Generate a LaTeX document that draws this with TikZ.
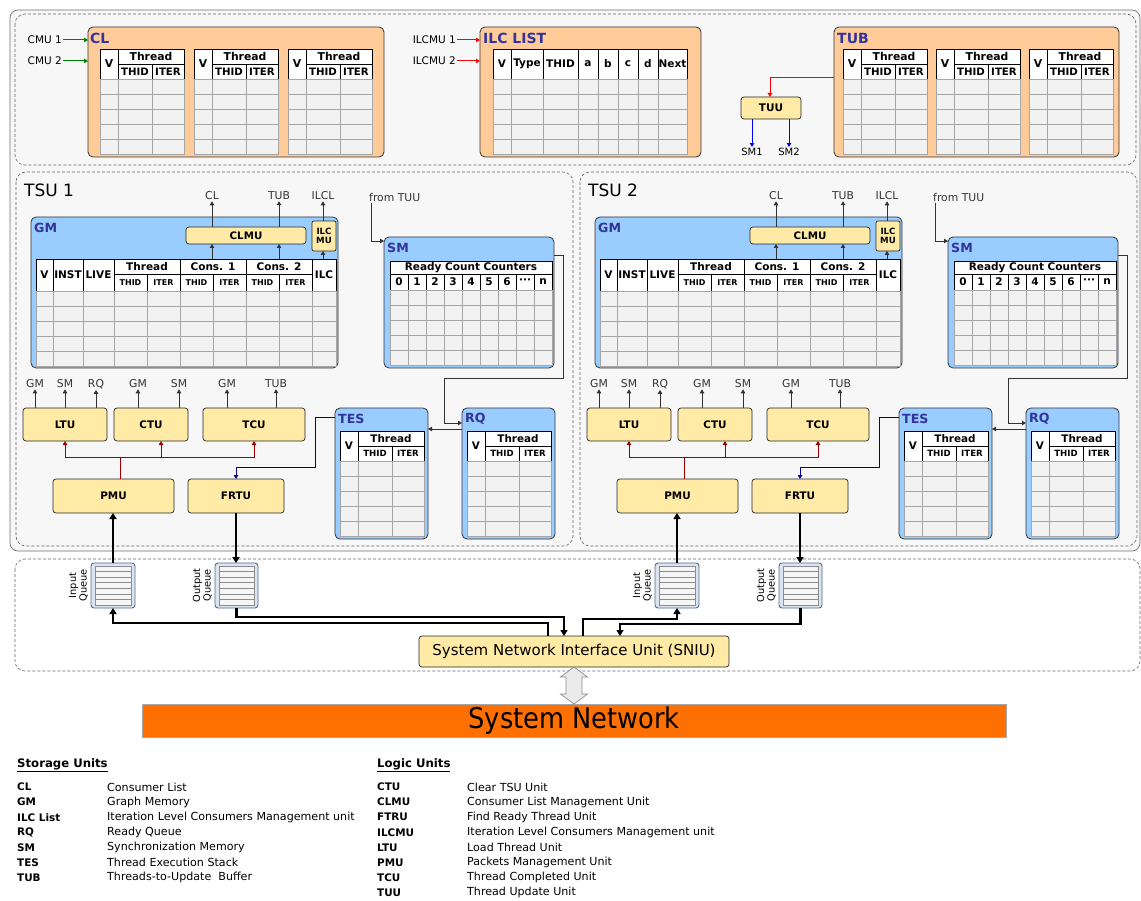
\documentclass[tikz,border=0pt]{standalone}
\usepackage{fontspec}
\setmainfont{DejaVu Sans}
\newfontfamily\condfont{DejaVu Sans Condensed}
\usetikzlibrary{arrows.meta,calc}

\definecolor{orangebox}{HTML}{FFCC99}
\definecolor{bluebox}{HTML}{99CCFF}
\definecolor{unitfill}{HTML}{FFEAA6}
\definecolor{titleblue}{HTML}{333399}
\definecolor{cellfill}{HTML}{F2F2F2}
\definecolor{cellline}{HTML}{A6A6A6}
\definecolor{panelfill}{HTML}{F7F7F7}
\definecolor{netorange}{HTML}{FF7000}
\definecolor{pmured}{HTML}{990000}
\definecolor{frtunavy}{HTML}{000099}
\definecolor{labelgray}{HTML}{333333}
\definecolor{cmugreen}{HTML}{008000}
\definecolor{queueedge}{HTML}{4F6B94}
\definecolor{queuefill}{HTML}{DCE4F0}

\tikzset{
  storebox/.style={draw=black!80, rounded corners=5pt, line width=0.8pt},
  orangestore/.style={storebox, fill=orangebox},
  bluestore/.style={storebox, fill=bluebox},
  unit/.style={draw=black!85, fill=unitfill, rounded corners=3pt, line width=0.7pt,
    font=\bfseries\fontsize{10.4}{11}\selectfont},
  ilcmubox/.style={unit, rounded corners=2pt, align=center, font=\bfseries\fontsize{8.6}{9.2}\selectfont},
  clmubox/.style={unit, font=\bfseries\fontsize{10.3}{11}\selectfont},
  bigtitle/.style={anchor=west, inner sep=0pt, text=titleblue,
    font=\bfseries\fontsize{14}{15}\selectfont},
  smalltitle/.style={bigtitle, font=\bfseries\fontsize{12.6}{13}\selectfont},
  tsutitle/.style={anchor=west, inner sep=0pt, font=\fontsize{17}{18}\selectfont},
  panel/.style={draw=black!60, dash pattern=on 3pt off 2pt, rounded corners=10pt, line width=0.6pt},
  hdrgrid/.style={draw=black, line width=0.8pt},
  cellgrid/.style={draw=cellline, line width=0.7pt},
  gmhead/.style={font=\bfseries\fontsize{10.5}{11}\selectfont, inner sep=0pt},
  gmgroup/.style={font=\bfseries\fontsize{10.5}{11}\selectfont, inner sep=0pt},
  gmsub/.style={font=\bfseries\fontsize{8}{9}\selectfont, inner sep=0pt},
  arrowtip/.style={-{Triangle[length=4pt,width=4.5pt]}},
  sig/.style={draw=labelgray, line width=0.9pt, arrowtip},
  siglabel/.style={font=\fontsize{10.8}{11.5}\selectfont, text=labelgray, inner sep=1pt},
  toplabel/.style={font=\fontsize{10.5}{11}\selectfont, inner sep=1pt},
  cmuarrow/.style={draw=cmugreen, line width=1pt, arrowtip},
  ilcarrow/.style={draw=red, line width=1pt, arrowtip},
  tuuarrow/.style={draw=blue, line width=1pt, arrowtip},
  pmuline/.style={draw=pmured, line width=1pt, arrowtip},
  frtuline/.style={draw=frtunavy, line width=1pt, arrowtip},
  bus/.style={draw=black, line width=2.2pt, -{Triangle[length=6pt,width=7pt]}},
  queuegrid/.style={draw=black!45, line width=0.5pt},
  legabbr/.style={anchor=west, inner sep=0pt, font=\bfseries\fontsize{10.4}{11}\selectfont},
  legdesc/.style={anchor=west, inner sep=0pt, font=\fontsize{11.1}{12}\selectfont},
  leghead/.style={anchor=west, inner sep=0pt, font=\bfseries\fontsize{11.7}{12}\selectfont},
}

% box given by its corners
\newcommand\boxat[7]{%
  \pgfmathsetmacro\bw{#5-#3}\pgfmathsetmacro\bh{#6-#4}%
  \node[#2, anchor=north west, minimum width=\bw pt, minimum height=\bh pt,
        inner sep=0pt, outer sep=0pt] (#1) at (#3,#4) {#7};}

% grey body rows of a table: x1, x2, top, rows, column separators
\newcommand\celbody[5]{%
  \pgfmathsetmacro\cbbot{#3+15*#4}%
  \fill[cellfill] (#1,#3) rectangle (#2,\cbbot);
  \foreach \k in {1,...,#4}{\draw[cellgrid] (#1,{#3+15*\k}) -- (#2,{#3+15*\k});}
  \foreach \s in {#5}{\draw[cellgrid] (\s,#3) -- (\s,\cbbot);}
  \draw[cellgrid] (#1,#3) rectangle (#2,\cbbot);}

% V | Thread (THID, ITER) table
\newcommand\threadtab[4]{%
  \begin{scope}[shift={(#1,#2)}]
    \fill[white] (0,0) rectangle (84,30);
    \draw[hdrgrid] (0,0) rectangle (84,30) (18,0) -- (18,30) (18,15) -- (84,15) (52,15) -- (52,30);
    \node[inner sep=0pt, font=#3] at (9,15) {V};
    \node[inner sep=0pt, font=#3] at (51,7.5) {Thread};
    \node[inner sep=0pt, font=#4] at (35,22.5) {THID};
    \node[inner sep=0pt, font=#4] at (68,22.5) {ITER};
    \celbody{0}{84}{30}{5}{18,52}
  \end{scope}}

% graph memory table
\newcommand\drawgmtab{%
  \fill[white] (36,259) rectangle (336,291);
  \draw[hdrgrid] (36,259) rectangle (336,291);
  \foreach \s in {53,83,114,180,246,312}{\draw[hdrgrid] (\s,259) -- (\s,291);}
  \draw[hdrgrid] (114,274) -- (312,274);
  \foreach \s in {147,213,279}{\draw[hdrgrid] (\s,274) -- (\s,291);}
  \foreach \w/\x in {V/44.5,INST/68,LIVE/98.5,ILC/324}{\node[gmhead] at (\x,275) {\w};}
  \node[gmgroup] at (147,266.5) {Thread};
  \node[gmgroup] at (213,266.5) {Cons. 1};
  \node[gmgroup] at (279,266.5) {Cons. 2};
  \foreach \x in {130.5,196.5,262.5}{\node[gmsub] at (\x,282.5) {THID};}
  \foreach \x in {163.5,229.5,295.5}{\node[gmsub] at (\x,282.5) {ITER};}
  \celbody{36}{336}{291}{5}{53,83,114,147,180,213,246,279,312}}

% synchronization memory table
\newcommand\drawsmtab{%
  \fill[white] (390,261) rectangle (552,290);
  \draw[hdrgrid] (390,261) rectangle (552,290) (390,274) -- (552,274);
  \foreach \s in {408,426,444,462,480,498,516,534}{\draw[hdrgrid] (\s,274) -- (\s,290);}
  \node[gmgroup] at (471,267.5) {Ready Count Counters};
  \foreach \w/\x in {0/399,1/417,2/435,3/453,4/471,5/489,6/507,n/543}{\node[gmhead] at (\x,282) {\w};}
  \node[gmhead] at (525,281) {\char"B7\char"B7\char"B7};
  \celbody{390}{552}{290}{5}{408,426,444,462,480,498,516,534}}

% packet queue with its vertical label
\newcommand\queuebox[6]{%
  \boxat{#1}{draw=queueedge, fill=queuefill, rounded corners=3pt, line width=0.9pt}{#2}{#3}{#4}{#5}{}
  \fill[black!4] ({#2+4},{#3+3}) rectangle ({#4-4},{#5-3});
  \foreach \k in {1,...,6}{\draw[queuegrid] ({#2+4},{#3+3+\k*(#5-#3-6)/7}) -- ({#4-4},{#3+3+\k*(#5-#3-6)/7});}
  \draw[queuegrid] ({#2+4},{#3+3}) rectangle ({#4-4},{#5-3});
  \node[rotate=90, align=center, anchor=south, inner sep=0pt,
        font=\fontsize{9.8}{10.5}\selectfont] (#1lbl) at ({#2-3},{(#3+#5)/2}) {#6};}

\newcommand\cellfontA{\bfseries\fontsize{10.8}{11}\selectfont}
\newcommand\cellfontB{\bfseries\fontsize{10.2}{11}\selectfont}
\newcommand\cellfontC{\bfseries\fontsize{10.4}{11}\selectfont}
\newcommand\cellfontD{\bfseries\fontsize{8.6}{9}\selectfont}

\begin{document}
\begin{tikzpicture}[x=1pt,y=-1pt]
\useasboundingbox (0,0) rectangle (1141,901);
\fill[white] (0,0) rectangle (1141,901);

% frame around storage and the two TSUs
\draw[draw=black!55, fill=panelfill, rounded corners=8pt, line width=0.7pt] (10,10) rectangle (1140,551);
\draw[panel] (15,14) rectangle (1136,165);

% ---------- shared storage ----------
\boxat{cl}{orangestore}{88}{27}{384}{157}{}
\node[bigtitle] (cltitle) at (90,38) {CL};
\foreach \x in {100,194,288}{\threadtab{\x}{49}{\cellfontA}{\cellfontB}}
\node[toplabel, anchor=east] (cmu1) at (63,40) {CMU 1};
\node[toplabel, anchor=east] (cmu2) at (63,61) {CMU 2};
\draw[cmuarrow] (cmu1.east) -- (cl.west |- cmu1.east);
\draw[cmuarrow] (cmu2.east) -- (cl.west |- cmu2.east);

\boxat{ilc}{orangestore}{480}{27}{701}{157}{}
\node[bigtitle] (ilctitle) at (483,38) {ILC LIST};
\fill[white] (493,49) rectangle (687,79);
\draw[hdrgrid] (493,49) rectangle (687,79);
\foreach \s in {511,543,578,598,618,638,658}{\draw[hdrgrid] (\s,49) -- (\s,79);}
\foreach \w/\x in {V/502,Type/527,THID/560.5,a/588,b/608,c/628,d/648,Next/672.5}{%
  \node[inner sep=0pt, font=\bfseries\fontsize{10.5}{11}\selectfont] at (\x,64) {\w};}
\celbody{493}{687}{79}{5}{511,543,578,598,618,638,658}
\node[toplabel, anchor=east] (ilcmu1) at (457,40) {ILCMU 1};
\node[toplabel, anchor=east] (ilcmu2) at (457,61) {ILCMU 2};
\draw[ilcarrow] (ilcmu1.east) -- (ilc.west |- ilcmu1.east);
\draw[ilcarrow] (ilcmu2.east) -- (ilc.west |- ilcmu2.east);

\boxat{tub}{orangestore}{834}{27}{1119}{157}{}
\node[bigtitle] (tubtitle) at (837,38) {TUB};
\foreach \x in {843,936,1029}{\threadtab{\x}{49}{\cellfontA}{\cellfontB}}

\boxat{tuu}{unit, font=\bfseries\fontsize{10.5}{11}\selectfont}{741}{97}{801}{119}{TUU}
\coordinate (tubout) at (834,78);
\draw[ilcarrow] (tubout) -| (tuu.north -| 770,0);
\node[toplabel, font=\fontsize{10}{11}\selectfont] (sm1) at (752,152) {SM1};
\node[toplabel, font=\fontsize{10}{11}\selectfont] (sm2) at (789,152) {SM2};
\draw[tuuarrow] (tuu.south -| sm1) -- (sm1.north);
\draw[tuuarrow] (tuu.south -| sm2) -- (sm2.north);

% ---------- TSU 1 ----------
\draw[panel] (16,172) rectangle (573,546);
\node[tsutitle] (atsu) at (24,190) {TSU 1};
\boxat{agm}{bluestore}{31}{217}{338}{368}{}
\node[smalltitle] (agmtitle) at (34,228) {GM};
\boxat{aclmu}{clmubox}{186}{227}{306}{244}{CLMU}
\boxat{ailcmu}{ilcmubox}{312}{221}{336}{251}{ILC\\MU}
\drawgmtab
\node[siglabel] (alcl) at (212,196) {CL};
\node[siglabel] (altub) at (279,196) {TUB};
\node[siglabel] (alilcl) at (323,196) {ILCL};
\draw[sig] (aclmu.north -| alcl) -- (alcl.south);
\draw[sig] (aclmu.north -| altub) -- (altub.south);
\draw[sig] (ailcmu.north -| alilcl) -- (alilcl.south);
\draw[sig] (212,259) -- (aclmu.south -| alcl);
\draw[sig] (279,259) -- (aclmu.south -| altub);
\draw[sig] (323,259) -- (ailcmu.south -| alilcl);
\boxat{asm}{bluestore}{384}{237}{554}{368}{}
\node[smalltitle] (asmtitle) at (387,248) {SM};
\drawsmtab
\node[siglabel, anchor=south west] (afromtuu) at (368,203) {from TUU};
\draw[sig] (371,203) -- (371,241) -- (asm.west |- 0,241);
\boxat{ates}{bluestore}{335}{408}{428}{539}{}
\node[smalltitle] (atestitle) at (338,419) {TES};
\threadtab{340}{431}{\cellfontC}{\cellfontD}
\boxat{arq}{bluestore}{462}{408}{555}{539}{}
\node[smalltitle] (arqtitle) at (465,419) {RQ};
\threadtab{467}{431}{\cellfontC}{\cellfontD}
\draw[sig] (asm.east |- 0,255) -- (563,255) -- (563,378) -- (444,378) -- (444,423) -- (arq.west |- 0,423);
\draw[sig] (arq.west |- 0,429) -- (ates.east |- 0,429);
\boxat{altu}{unit}{23}{408}{107}{441}{LTU}
\boxat{actu}{unit}{114}{408}{188}{441}{CTU}
\boxat{atcu}{unit}{203}{408}{305}{441}{TCU}
\boxat{apmu}{unit}{53}{479}{174}{513}{PMU}
\boxat{afrtu}{unit}{188}{479}{284}{513}{FRTU}
\node[siglabel] (agm1) at (35,384) {GM};
\node[siglabel] (asm1) at (65,384) {SM};
\node[siglabel] (arq1) at (96,384) {RQ};
\node[siglabel] (agm2) at (138,384) {GM};
\node[siglabel] (asm2) at (179,384) {SM};
\node[siglabel] (agm3) at (227,384) {GM};
\node[siglabel] (atub1) at (276,384) {TUB};
\draw[sig] (altu.north -| agm1) -- (agm1.south);
\draw[sig] (altu.north -| asm1) -- (asm1.south);
\draw[sig] (altu.north -| arq1) -- (arq1.south);
\draw[sig] (actu.north -| agm2) -- (agm2.south);
\draw[sig] (actu.north -| asm2) -- (asm2.south);
\draw[sig] (atcu.north -| agm3) -- (agm3.south);
\draw[sig] (atcu.north -| atub1) -- (atub1.south);
\draw[pmuline] (apmu.north -| 120,0) -- (120,457) -- (65,457) -- (altu.south -| 65,0);
\draw[pmuline] (apmu.north -| 120,0) -- (120,457) -- (161,457) -- (actu.south -| 161,0);
\draw[pmuline] (apmu.north -| 120,0) -- (120,457) -- (254,457) -- (atcu.south -| 254,0);
\draw[frtuline] (ates.west |- 0,417) -- (315,417) -- (315,467) -- (afrtu.north |- 0,467) -- (afrtu.north);

% ---------- TSU 2 ----------
\begin{scope}[xshift=564pt]
\draw[panel] (16,172) rectangle (573,546);
\node[tsutitle] (btsu) at (24,190) {TSU 2};
\boxat{bgm}{bluestore}{31}{217}{338}{368}{}
\node[smalltitle] (bgmtitle) at (34,228) {GM};
\boxat{bclmu}{clmubox}{186}{227}{306}{244}{CLMU}
\boxat{bilcmu}{ilcmubox}{312}{221}{336}{251}{ILC\\MU}
\drawgmtab
\node[siglabel] (blcl) at (212,196) {CL};
\node[siglabel] (bltub) at (279,196) {TUB};
\node[siglabel] (blilcl) at (323,196) {ILCL};
\draw[sig] (bclmu.north -| blcl) -- (blcl.south);
\draw[sig] (bclmu.north -| bltub) -- (bltub.south);
\draw[sig] (bilcmu.north -| blilcl) -- (blilcl.south);
\draw[sig] (212,259) -- (bclmu.south -| blcl);
\draw[sig] (279,259) -- (bclmu.south -| bltub);
\draw[sig] (323,259) -- (bilcmu.south -| blilcl);
\boxat{bsm}{bluestore}{384}{237}{554}{368}{}
\node[smalltitle] (bsmtitle) at (387,248) {SM};
\drawsmtab
\node[siglabel, anchor=south west] (bfromtuu) at (368,203) {from TUU};
\draw[sig] (371,203) -- (371,241) -- (bsm.west |- 0,241);
\boxat{btes}{bluestore}{335}{408}{428}{539}{}
\node[smalltitle] (btestitle) at (338,419) {TES};
\threadtab{340}{431}{\cellfontC}{\cellfontD}
\boxat{brq}{bluestore}{462}{408}{555}{539}{}
\node[smalltitle] (brqtitle) at (465,419) {RQ};
\threadtab{467}{431}{\cellfontC}{\cellfontD}
\draw[sig] (bsm.east |- 0,255) -- (563,255) -- (563,378) -- (444,378) -- (444,423) -- (brq.west |- 0,423);
\draw[sig] (brq.west |- 0,429) -- (btes.east |- 0,429);
\boxat{bltu}{unit}{23}{408}{107}{441}{LTU}
\boxat{bctu}{unit}{114}{408}{188}{441}{CTU}
\boxat{btcu}{unit}{203}{408}{305}{441}{TCU}
\boxat{bpmu}{unit}{53}{479}{174}{513}{PMU}
\boxat{bfrtu}{unit}{188}{479}{284}{513}{FRTU}
\node[siglabel] (bgm1) at (35,384) {GM};
\node[siglabel] (bsm1) at (65,384) {SM};
\node[siglabel] (brq1) at (96,384) {RQ};
\node[siglabel] (bgm2) at (138,384) {GM};
\node[siglabel] (bsm2) at (179,384) {SM};
\node[siglabel] (bgm3) at (227,384) {GM};
\node[siglabel] (btub1) at (276,384) {TUB};
\draw[sig] (bltu.north -| bgm1) -- (bgm1.south);
\draw[sig] (bltu.north -| bsm1) -- (bsm1.south);
\draw[sig] (bltu.north -| brq1) -- (brq1.south);
\draw[sig] (bctu.north -| bgm2) -- (bgm2.south);
\draw[sig] (bctu.north -| bsm2) -- (bsm2.south);
\draw[sig] (btcu.north -| bgm3) -- (bgm3.south);
\draw[sig] (btcu.north -| btub1) -- (btub1.south);
\draw[pmuline] (bpmu.north -| 120,0) -- (120,457) -- (65,457) -- (bltu.south -| 65,0);
\draw[pmuline] (bpmu.north -| 120,0) -- (120,457) -- (161,457) -- (bctu.south -| 161,0);
\draw[pmuline] (bpmu.north -| 120,0) -- (120,457) -- (254,457) -- (btcu.south -| 254,0);
\draw[frtuline] (btes.west |- 0,417) -- (315,417) -- (315,467) -- (bfrtu.north |- 0,467) -- (bfrtu.north);
\end{scope}

% ---------- network interface ----------
\draw[panel, fill=white] (15,559) rectangle (1140,671);
\queuebox{aiq}{91}{563}{135}{608}{Input\\Queue}
\queuebox{aoq}{215}{563}{258}{608}{Output\\Queue}
\queuebox{biq}{655}{563}{699}{608}{Input\\Queue}
\queuebox{boq}{779}{563}{822}{608}{Output\\Queue}
\boxat{sniu}{unit, font=\mdseries\fontsize{15}{16}\selectfont}{419}{636}{729}{667}{System Network Interface Unit (SNIU)}

\draw[bus] (aiq.north) -- (aiq.north |- apmu.south);
\draw[bus] (afrtu.south) -- (afrtu.south |- aoq.north);
\draw[bus] (biq.north) -- (biq.north |- bpmu.south);
\draw[bus] (bfrtu.south) -- (bfrtu.south |- boq.north);

\draw[bus] (sniu.north -| 548,0) -- (548,623) -- (aiq.south |- 0,623) -- (aiq.south);
\draw[bus] (aoq.south) -- (aoq.south |- 0,617) -- (564,617) -- (sniu.north -| 564,0);
\draw[bus] (sniu.north -| 583,0) -- (583,619) -- (biq.south |- 0,619) -- (biq.south);
\draw[bus] (boq.south) -- (boq.south |- 0,624) -- (620,624) -- (sniu.north -| 620,0);

\boxat{net}{draw=black!35, fill=netorange, line width=0.8pt, font=\condfont\fontsize{28.5}{29}\selectfont}{142}{704}{1006}{737}{System Network}
% two-way link between the interface unit and the network
\draw[fill=black!8, draw=black!45, line width=0.7pt]
  (sniu.south -| 574,0) -- (587.5,677) -- (582,677) -- (582,694) -- (587.5,694) -- (net.north -| 574,0)
  -- (560.5,694) -- (566,694) -- (566,677) -- (560.5,677) -- cycle;

% ---------- legend ----------
\node[leghead] (storhead) at (17,765) {\underline{Storage Units}};
\foreach \a/\d [count=\i from 0] in {CL/Consumer List,GM/Graph Memory,
  ILC List/Iteration Level Consumers Management unit,RQ/Ready Queue,
  SM/Synchronization Memory,TES/Thread Execution Stack,TUB/Threads-to-Update~ Buffer}{%
  \node[legabbr] (sa\i) at (17,{787+15.1*\i}) {\a};
  \node[legdesc] (sd\i) at (107,{787+15.1*\i}) {\d};}
\node[leghead] (logichead) at (377,765) {\underline{Logic Units}};
\foreach \a/\d [count=\i from 0] in {CTU/Clear TSU Unit,CLMU/Consumer List Management Unit,
  FTRU/Find Ready Thread Unit,ILCMU/Iteration Level Consumers Management unit,
  LTU/Load Thread Unit,PMU/Packets Management Unit,TCU/Thread Completed Unit,TUU/Thread Update Unit}{%
  \node[legabbr] (la\i) at (377,{787+15.1*\i}) {\a};
  \node[legdesc] (ld\i) at (467,{787+15.1*\i}) {\d};}
\end{tikzpicture}
\end{document}
